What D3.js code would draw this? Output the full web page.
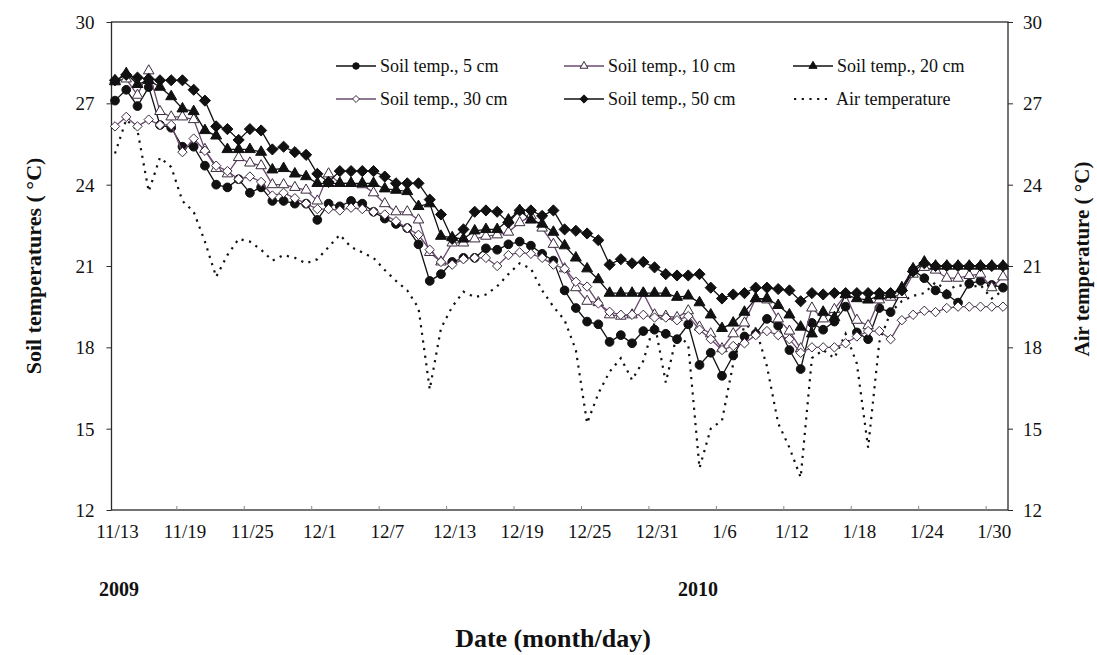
<!DOCTYPE html>
<html>
<head>
<meta charset="utf-8">
<script src="https://cdn.jsdelivr.net/npm/d3@7"></script>
<style>
  body { margin: 0; background: #fff; }
  svg { display: block; }
  text { font-family: "Liberation Serif", "Times New Roman", serif; fill: #111; }
</style>
</head>
<body>
<svg id="chart" width="1097" height="655"></svg>
<script>
// Daily observation dates, 13 Nov 2009 – 31 Jan 2010
const dates = [
  "11/13","11/14","11/15","11/16","11/17","11/18","11/19","11/20","11/21","11/22",
  "11/23","11/24","11/25","11/26","11/27","11/28","11/29","11/30",
  "12/1","12/2","12/3","12/4","12/5","12/6","12/7","12/8","12/9","12/10",
  "12/11","12/12","12/13","12/14","12/15","12/16","12/17","12/18","12/19","12/20",
  "12/21","12/22","12/23","12/24","12/25","12/26","12/27","12/28","12/29","12/30","12/31",
  "1/1","1/2","1/3","1/4","1/5","1/6","1/7","1/8","1/9","1/10",
  "1/11","1/12","1/13","1/14","1/15","1/16","1/17","1/18","1/19","1/20",
  "1/21","1/22","1/23","1/24","1/25","1/26","1/27","1/28","1/29","1/30","1/31"
];
const tickLabels = ["11/13","11/19","11/25","12/1","12/7","12/13","12/19","12/25","12/31","1/6","1/12","1/18","1/24","1/30"];
const yTicks = [12, 15, 18, 21, 24, 27, 30];

// Soil temperature (°C) at each depth
const soil5 = [
  27.1, 27.5, 26.9, 27.6, 26.2, 26.1, 25.4, 25.4, 24.7, 24.0,
  23.9, 24.2, 23.7, 23.9, 23.4, 23.4, 23.3, 23.3, 22.7, 23.3,
  23.2, 23.4, 23.3, 23.0, 22.75, 22.55, 22.4, 21.8, 20.45, 20.7,
  21.15, 21.3, 21.3, 21.65, 21.6, 21.8, 21.9, 21.75, 21.45, 21.2,
  20.1, 19.45, 18.95, 18.85, 18.2, 18.45, 18.15, 18.6, 18.65, 18.5,
  18.3, 18.85, 17.35, 17.8, 16.95, 17.7, 18.4, 18.5, 19.05, 18.8,
  17.9, 17.2, 18.9, 18.65, 18.95, 19.5, 18.55, 18.3, 19.45, 19.3,
  20.1, 20.85, 20.55, 20.1, 19.95, 19.65, 20.35, 20.45, 20.3, 20.2
];
const soil10 = [
  27.85, 27.9, 27.3, 28.2, 26.7, 26.5, 26.5, 26.4, 25.3, 24.6,
  24.4, 25.0, 24.8, 24.7, 24.0, 24.0, 23.9, 23.8, 23.4, 24.4,
  24.05, 24.05, 24.0, 23.7, 23.3, 23.0, 23.0, 22.7, 21.5, 21.15,
  21.85, 21.85, 22.0, 22.1, 22.15, 22.25, 22.6, 22.85, 22.4, 21.8,
  20.9, 20.2, 19.7, 19.65, 19.2, 19.15, 19.2, 20.0, 19.2, 19.15,
  19.1, 19.35, 18.75, 18.5, 17.95, 18.5, 18.9, 19.8, 19.75, 19.05,
  18.6, 17.95, 19.45, 19.05, 19.4, 19.95, 19.0, 18.8, 19.75, 19.85,
  19.95, 20.7, 20.95, 20.85, 20.55, 20.55, 20.65, 20.7, 20.2, 20.6
];
const soil20 = [
  27.8, 28.1, 27.7, 27.85, 27.6, 27.25, 26.8, 26.7, 26.0, 25.8,
  25.3, 25.3, 25.3, 25.2, 24.55, 24.6, 24.4, 24.3, 24.05, 24.05,
  24.05, 24.05, 24.05, 24.05, 23.85, 23.8, 23.75, 23.2, 23.3, 22.1,
  22.05, 22.0, 22.3, 22.35, 22.35, 22.7, 23.05, 22.7, 22.55, 22.25,
  21.75, 21.3, 20.9, 20.5, 20.0, 20.0, 20.0, 20.0, 20.0, 20.0,
  19.85, 19.9, 19.65, 19.2, 18.7, 18.9, 19.3, 19.8, 19.8, 19.55,
  19.2, 18.75, 18.5, 19.3, 19.1, 19.95, 19.8, 19.75, 19.9, 19.95,
  20.2, 20.9, 21.15, 21.0, 21.0, 21.0, 21.0, 21.0, 21.0, 21.0
];
const soil30 = [
  26.15, 26.5, 26.15, 26.4, 26.2, 26.2, 25.2, 25.7, 25.25, 24.7,
  24.5, 24.2, 24.3, 24.1, 23.6, 23.7, 23.5, 23.3, 23.1, 23.1,
  23.05, 23.15, 23.1, 23.0, 22.9, 22.65, 22.4, 22.15, 21.6, 21.15,
  21.05, 21.25, 21.3, 21.3, 21.0, 21.4, 21.5, 21.45, 21.3, 21.05,
  20.9, 20.42, 20.24, 19.62, 19.31, 19.2, 19.2, 19.2, 19.1, 19.1,
  19.0, 19.15, 18.65, 18.3, 17.9, 18.05, 18.15, 18.45, 18.6, 18.45,
  18.3, 17.8, 18.0, 18.0, 18.0, 18.15, 18.4, 18.6, 18.6, 18.3,
  19.0, 19.2, 19.35, 19.3, 19.45, 19.5, 19.5, 19.5, 19.5, 19.5
];
const soil50 = [
  27.85, 28.05, 27.95, 27.9, 27.85, 27.85, 27.85, 27.5, 27.1, 26.15,
  26.05, 25.65, 26.05, 26.0, 25.3, 25.4, 25.2, 25.1, 24.4, 24.1,
  24.5, 24.5, 24.5, 24.5, 24.3, 24.05, 24.05, 24.05, 23.45, 22.9,
  22.0, 22.35, 23.0, 23.05, 23.0, 22.6, 23.05, 23.05, 22.85, 23.05,
  22.35, 22.3, 22.2, 21.95, 21.05, 21.25, 21.1, 21.15, 20.95, 20.7,
  20.65, 20.65, 20.7, 20.2, 19.8, 19.95, 20.0, 20.2, 20.2, 20.15,
  20.1, 19.7, 20.0, 19.95, 20.0, 20.0, 20.0, 20.0, 20.0, 20.0,
  20.1, 20.8, 21.1, 21.0, 21.0, 21.0, 21.0, 21.0, 21.0, 21.0
];
// Daily mean air temperature (°C), right axis
const airTemp = [
  25.15, 26.4, 26.0, 23.75, 25.0, 24.65, 23.4, 23.0, 21.9, 20.6,
  21.4, 22.0, 21.9, 21.6, 21.2, 21.4, 21.3, 21.1, 21.25, 21.7,
  22.15, 21.7, 21.5, 21.3, 20.85, 20.45, 20.1, 19.45, 16.45, 18.7,
  19.5, 20.05, 19.85, 19.95, 20.25, 20.7, 21.1, 20.9, 20.1, 19.5,
  19.0, 17.9, 15.2, 16.3, 17.1, 17.6, 16.8, 17.5, 18.9, 16.7,
  18.5, 18.1, 13.55, 15.0, 15.3, 17.4, 18.8, 18.7, 17.3, 15.2,
  14.3, 13.2, 17.6, 17.9, 17.6, 18.5, 17.4, 14.3, 18.2, 19.3,
  19.7, 19.9, 20.0, 20.4, 20.1, 20.3, 20.2, 20.3, 19.8, 20.1
];

const frame = { left: 111.5, right: 1008, top: 22, bottom: 510 };

const svg = d3.select("#chart");

const x = d3.scalePoint().domain(dates).range([115, 1003]);
const yL = d3.scaleLinear().domain([12, 30]).range([frame.bottom, frame.top]);
const yR = d3.scaleLinear().domain([12, 30]).range([frame.bottom, frame.top]);

// Diamond marker (square turned 45°)
const symDiamond = {
  draw(ctx, size) {
    const r = Math.sqrt(size / 2);
    ctx.moveTo(0, -r); ctx.lineTo(r, 0); ctx.lineTo(0, r); ctx.lineTo(-r, 0); ctx.closePath();
  }
};

const purple = "#6b4a70";
const series = [
  { name: "Soil temp., 5 cm",  values: soil5,  line: "#111", sym: d3.symbolCircle,   size: 60, fill: "#111", stroke: "#111" },
  { name: "Soil temp., 10 cm", values: soil10, line: purple, sym: d3.symbolTriangle, size: 48, fill: "#fff", stroke: "#3a2b3d" },
  { name: "Soil temp., 20 cm", values: soil20, line: "#111", sym: d3.symbolTriangle, size: 52, fill: "#111", stroke: "#111" },
  { name: "Soil temp., 30 cm", values: soil30, line: purple, sym: symDiamond,       size: 44, fill: "#fff", stroke: "#3a2b3d" },
  { name: "Soil temp., 50 cm", values: soil50, line: "#111", sym: symDiamond,       size: 62, fill: "#111", stroke: "#111" }
];

// Plot frame
svg.append("rect")
  .attr("x", frame.left).attr("y", frame.top)
  .attr("width", frame.right - frame.left).attr("height", frame.bottom - frame.top)
  .attr("fill", "none").attr("stroke", "#2a2a2a").attr("stroke-width", 1.3);

// Left axis
const axL = svg.append("g").attr("transform", `translate(${frame.left},0)`)
  .call(d3.axisLeft(yL).tickValues(yTicks).tickSize(5).tickPadding(12).tickFormat(d3.format("d")));
axL.select(".domain").remove();
axL.selectAll("line").attr("stroke", "#2a2a2a");
axL.selectAll("text").style("font-size", "19px").attr("dy", "0.35em");

// Right axis
const axR = svg.append("g").attr("transform", `translate(${frame.right},0)`)
  .call(d3.axisRight(yR).tickValues(yTicks).tickSize(5).tickPadding(10).tickFormat(d3.format("d")));
axR.select(".domain").remove();
axR.selectAll("line").attr("stroke", "#2a2a2a");
axR.selectAll("text").style("font-size", "19px").attr("dy", "0.35em");

// Bottom axis labels
const axB = svg.append("g").attr("transform", `translate(2,${frame.bottom})`)
  .call(d3.axisBottom(x).tickValues(tickLabels).tickSize(0).tickPadding(15));
axB.select(".domain").remove();
axB.selectAll("text").style("font-size", "19px");

// Small inner tick marks between day groups
const step = x.step();
svg.append("g").selectAll("line")
  .data(tickLabels.slice(1))
  .join("line")
  .attr("x1", d => x(d) - step / 2).attr("x2", d => x(d) - step / 2)
  .attr("y1", frame.bottom).attr("y2", frame.bottom - 4)
  .attr("stroke", "#888").attr("stroke-width", 1);

// Air temperature (dotted line, right axis)
const airLine = d3.line().x((d, i) => x(dates[i])).y(d => yR(d));
svg.append("path")
  .datum(airTemp)
  .attr("d", airLine)
  .attr("fill", "none")
  .attr("stroke", "#111")
  .attr("stroke-width", 2.2)
  .attr("stroke-dasharray", "2.2 5.5");

// Soil temperature series
const soilLine = d3.line().x((d, i) => x(dates[i])).y(d => yL(d));
series.forEach(s => {
  const g = svg.append("g");
  g.append("path")
    .datum(s.values)
    .attr("d", soilLine)
    .attr("fill", "none")
    .attr("stroke", s.line)
    .attr("stroke-width", 1.3);
  g.selectAll("path.m")
    .data(s.values)
    .join("path")
    .attr("class", "m")
    .attr("transform", (d, i) => `translate(${x(dates[i])},${yL(d)})`)
    .attr("d", d3.symbol().type(s.sym).size(s.size))
    .attr("fill", s.fill)
    .attr("stroke", s.stroke)
    .attr("stroke-width", 1)
    .attr("stroke-linejoin", "round");
});

// Legend
const legendItems = [
  { s: series[0], col: 0, row: 0 },
  { s: series[1], col: 1, row: 0 },
  { s: series[2], col: 2, row: 0 },
  { s: series[3], col: 0, row: 1 },
  { s: series[4], col: 1, row: 1 },
  { s: null, name: "Air temperature", col: 2, row: 1 }
];
const colX = [336, 564, 793];
const rowY = [66, 99];
const leg = svg.append("g");
legendItems.forEach(it => {
  const x0 = colX[it.col], yy = rowY[it.row];
  if (it.s) {
    leg.append("line").attr("x1", x0).attr("x2", x0 + 40).attr("y1", yy).attr("y2", yy)
      .attr("stroke", it.s.line).attr("stroke-width", 1.3);
    leg.append("path")
      .attr("transform", `translate(${x0 + 20},${yy})`)
      .attr("d", d3.symbol().type(it.s.sym).size(it.s.size * 0.55))
      .attr("fill", it.s.fill).attr("stroke", it.s.stroke).attr("stroke-width", 1);
    leg.append("text").attr("x", x0 + 44).attr("y", yy).attr("dy", "0.35em")
      .style("font-size", "18px").text(it.s.name);
  } else {
    leg.append("line").attr("x1", x0 + 1).attr("x2", x0 + 37).attr("y1", yy).attr("y2", yy)
      .attr("stroke", "#111").attr("stroke-width", 2.2).attr("stroke-dasharray", "2.2 5.5");
    leg.append("text").attr("x", x0 + 43).attr("y", yy).attr("dy", "0.35em")
      .style("font-size", "18px").text(it.name);
  }
});

// Axis titles
svg.append("text")
  .attr("transform", `translate(41,266) rotate(-90)`)
  .attr("text-anchor", "middle")
  .style("font-size", "22px").style("font-weight", "bold")
  .text("Soil temperatures ( °C)");
svg.append("text")
  .attr("transform", `translate(1089,259) rotate(-90)`)
  .attr("text-anchor", "middle")
  .style("font-size", "21px").style("font-weight", "bold")
  .text("Air temperature ( °C)");

svg.append("text").attr("x", 119).attr("y", 596).attr("text-anchor", "middle")
  .style("font-size", "20px").style("font-weight", "bold").text("2009");
svg.append("text").attr("x", 698).attr("y", 596).attr("text-anchor", "middle")
  .style("font-size", "20px").style("font-weight", "bold").text("2010");

svg.append("text").attr("x", 553).attr("y", 647).attr("text-anchor", "middle")
  .style("font-size", "26px").style("font-weight", "bold").text("Date (month/day)");
</script>
</body>
</html>
